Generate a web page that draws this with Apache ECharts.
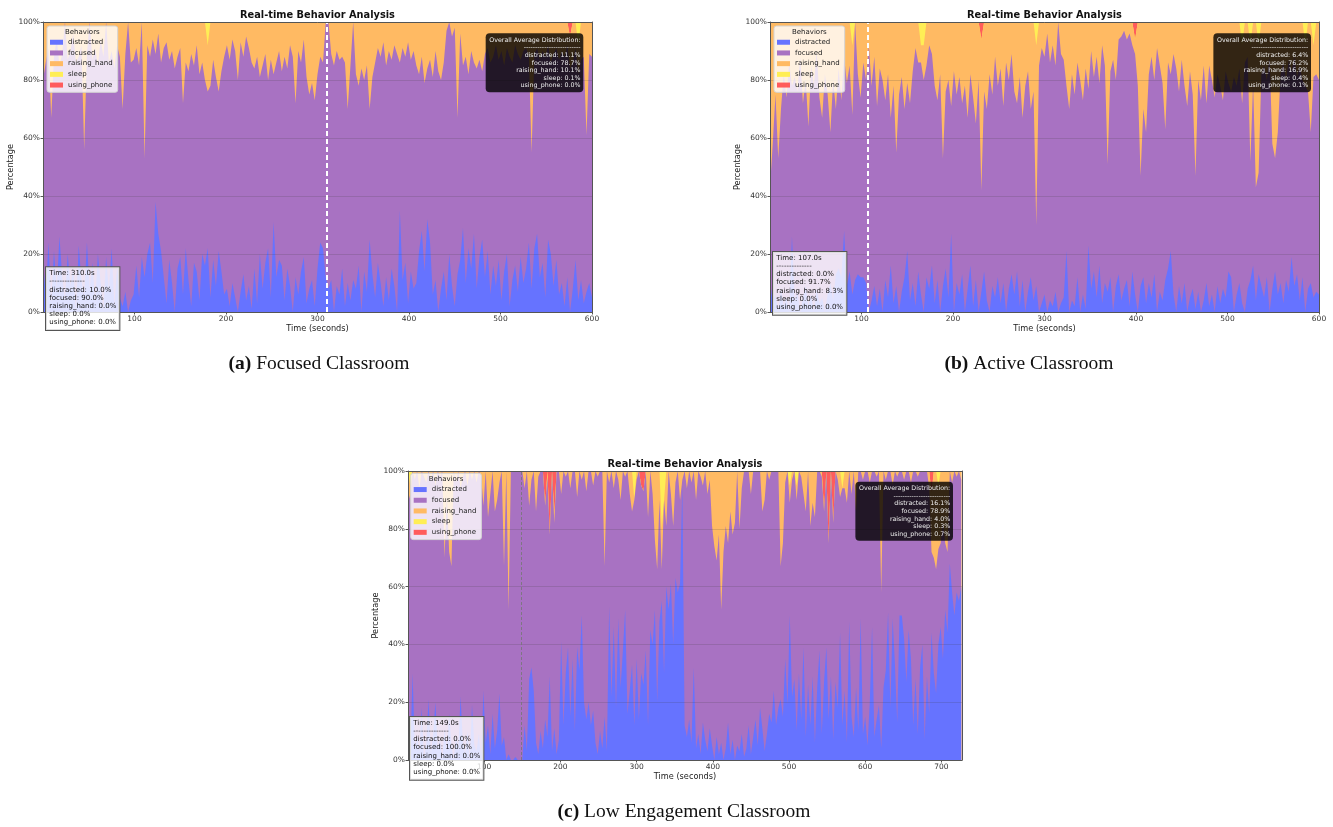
<!DOCTYPE html>
<html>
<head>
<meta charset="utf-8">
<script src="https://cdn.jsdelivr.net/npm/echarts@6/dist/echarts.min.js"></script>
<style>html,body{margin:0;padding:0;background:#fff}#chart{width:1333px;height:827px}</style>
</head>
<body>
<div id="chart"></div>
<script>
// ---------------- data (percent of students, one sample every 3 s) ----------------
const BEHAVIORS = ['distracted', 'focused', 'raising_hand', 'sleep', 'using_phone'];
const STEP = 3;
const Y_TICKS = [0, 20, 40, 60, 80, 100];

// (a) Focused Classroom, t = 0..600
const distractedA = [18,6,24,3,21,8,26,12,
4,20,9,15,0,23,11,5,24,8,17,3,20,10,0,19,7,22,2,16,
5,2,7,0,4,6,
16,5,19,12,20,
24,10,38,27,21,
12,3,18,10,0,15,19,6,22,11,2,17,
14,4,20,16,22,5,18,9,21,14,6,
8,2,10,5,0,7,13,4,9,1,
15,3,20,8,17,22,5,31,12,18,16,
4,15,9,0,12,6,14,19,3,8,11,2,15,
24,22,12,
8,11,0,9,6,15,2,10,4,
11,8,16,0,14,7,25,13,5,17,10,2,
12,4,15,9,0,35,11,17,3,14,8,10,
21,28,14,32,24,
6,11,0,8,14,4,20,9,2,13,
18,29,10,22,15,27,8,19,25,12,21,6,16,
9,18,4,14,20,2,11,16,7,19,10,
15,24,8,22,27,12,17,5,25,20,9,18,
6,10,2,12,0,8,18,4,11,3,7,10,5];
const raisingA = [20,14,9,33,12,6,15,11,0,13,
10,4,14,12,8,44,11,0,13,9,
15,6,12,0,14,10,16,8,12,30,
11,0,14,13,9,15,0,47,8,12,
6,11,4,14,9,7,13,10,16,12,
9,28,14,17,11,15,8,18,14,20,
16,22,13,19,24,17,12,8,13,6,
10,20,7,12,5,9,14,16,12,19,
15,11,20,13,18,14,10,17,12,16,
8,12,28,10,14,6,19,25,21,27,
18,12,14,0,0,11,15,10,13,12,
14,30,15,0,18,22,16,20,15,30,
19,14,9,12,7,15,10,13,8,11,
14,9,12,7,13,10,15,18,12,21,
16,13,19,10,17,20,14,3,0,5,
2,33,4,15,12,18,10,14,16,13,
17,11,9,14,12,8,13,10,15,9,
12,14,8,11,13,10,9,12,45,11,
9,13,10,12,8,14,11,9,13,10,
12,8,11,14,9,10,13,12,39,11,
12];
const sleepA = [[180,8],[585,8]];          // [time, value]
const phoneA = [[576,5]];

// (b) Active Classroom, t = 0..600
const distractedB = [11,3,6,0,8,2,5,0,26,4,
7,0,5,9,2,6,0,8,3,5,
0,6,10,4,13,15,12,28,9,14,
6,11,13,12,12,10,0,4,9,2,
8,0,11,5,16,3,9,0,7,12,
21,4,10,2,14,6,0,12,8,16,
3,11,0,9,15,5,27,0,10,6,
13,0,8,16,2,11,0,7,14,4,
0,9,5,12,3,10,0,8,13,6,
14,2,11,0,7,12,4,9,0,3,
6,0,4,2,7,0,3,5,21,0,
4,2,12,0,6,1,23,8,14,5,
16,3,10,7,12,0,9,13,4,8,
11,2,14,6,0,9,12,3,10,5,
13,0,7,4,11,15,21,6,0,9,
3,10,0,5,8,1,7,0,4,10,
2,6,0,9,3,8,5,14,12,0,
6,10,3,0,8,11,16,4,13,9,
5,12,0,8,14,6,10,3,11,7,
19,9,13,4,12,0,8,10,5,7,
6];
const raisingB = [57,42,25,47,30,18,26,14,22,19,
24,12,28,20,36,15,22,10,26,33,
18,25,38,20,30,16,27,12,21,15,
24,0,18,26,14,20,8,22,12,29,
16,20,27,18,33,22,45,25,19,30,
21,28,17,9,14,6,12,15,8,11,
22,27,18,47,24,20,29,17,25,19,
28,22,33,18,26,35,20,52,24,30,
18,25,12,22,16,29,14,20,11,24,
28,19,33,22,17,30,24,62,15,9,
12,4,14,8,15,0,11,13,22,30,
18,25,14,20,27,16,23,10,19,12,
21,8,15,49,17,13,20,6,5,3,
6,4,8,5,22,53,30,38,18,12,
20,9,15,21,37,14,18,11,16,24,
13,22,29,17,25,53,20,27,15,28,
15,20,26,18,22,27,17,21,24,19,
22,16,20,14,12,40,21,57,44,18,
15,20,12,42,47,38,18,14,20,13,
17,12,19,15,20,14,24,38,11,18,
20];
const sleepB = [[90,8],[165,8],[168,8],[291,8],[516,8],[525,8],[534,8],[585,8],[594,8]];
const phoneB = [[231,6],[399,6]];

// (c) Low Engagement Classroom, t = 0..726
const distractedC = [5,2,30,4,8,3,18,0,6,21,
2,9,20,4,7,0,11,3,16,5,
0,8,4,22,6,2,10,0,19,5,
3,9,0,24,6,12,2,16,4,10,
23,5,8,0,2,0,0,1,0,0,
0,12,3,28,32,24,6,2,10,4,
14,8,29,3,11,2,7,41,12,30,
39,15,35,10,39,31,50,20,14,20,
12,17,6,2,10,4,15,3,53,22,
46,18,49,25,38,52,16,24,33,12,
35,14,30,26,38,12,45,40,52,20,
48,55,30,60,52,61,40,63,58,61,
95,12,8,14,6,32,4,9,2,13,
7,3,11,5,0,8,2,6,0,4,
13,2,7,0,5,3,9,1,4,12,
2,8,14,5,18,11,3,9,16,13,
24,12,18,21,15,35,19,50,22,28,
10,30,14,39,8,26,12,29,6,25,
38,9,27,39,14,29,7,27,18,44,
12,24,6,48,15,8,25,10,49,9,
15,5,20,46,8,14,19,4,25,31,
51,18,49,33,13,50,50,42,27,45,
35,12,28,9,32,40,7,29,16,44,
30,23,40,46,35,52,44,68,58,50,
58,55,60];
const raisingC = [7,5,0,3,0,6,0,2,4,0,
3,0,5,0,2,0,30,8,28,33,
0,4,0,6,2,0,5,0,3,0,
4,0,2,12,0,16,8,0,14,10,
4,0,33,0,48,0,0,0,0,0,
0,6,0,12,3,0,14,2,0,0,
0,2,0,0,3,0,0,8,0,2,
0,6,0,0,9,0,3,0,7,0,
0,5,0,2,0,0,33,0,4,0,
6,0,3,10,0,2,0,8,14,0,
3,0,0,0,0,16,0,8,24,34,
10,14,0,19,0,8,19,4,0,10,
3,0,6,0,4,0,10,0,2,5,
0,8,3,19,26,31,22,48,28,19,
25,14,22,18,0,20,6,0,0,0,
8,0,0,0,0,14,10,0,3,0,
0,0,0,33,25,4,0,6,3,0,
5,0,2,8,14,0,19,11,16,0,
0,2,0,0,0,0,0,0,3,9,
0,6,11,0,8,0,14,0,0,3,
0,0,4,0,0,2,0,42,0,3,
0,0,5,0,2,0,0,3,0,0,
4,0,0,2,0,0,0,0,6,20,
30,34,22,25,18,25,28,0,4,0,
2,0,3];
const sleepC = [[3,5],[297,10],[333,20],[336,10],[501,5],[510,5],[570,6],[696,5]];
const phoneC = [[180,12],[186,22],[192,15],[306,5],[309,7],[546,14],[552,25],[558,18],[687,8]];

// info texts
const nowA = ['Time: 310.0s','distracted: 10.0%','focused: 90.0%','raising_hand: 0.0%','sleep: 0.0%','using_phone: 0.0%'];
const avgA = ['distracted: 11.1%','focused: 78.7%','raising_hand: 10.1%','sleep: 0.1%','using_phone: 0.0%'];
const nowB = ['Time: 107.0s','distracted: 0.0%','focused: 91.7%','raising_hand: 8.3%','sleep: 0.0%','using_phone: 0.0%'];
const avgB = ['distracted: 6.4%','focused: 76.2%','raising_hand: 16.9%','sleep: 0.4%','using_phone: 0.1%'];
const nowC = ['Time: 149.0s','distracted: 0.0%','focused: 100.0%','raising_hand: 0.0%','sleep: 0.0%','using_phone: 0.0%'];
const avgC = ['distracted: 16.1%','focused: 78.9%','raising_hand: 4.0%','sleep: 0.3%','using_phone: 0.7%'];

// ---------------- styling & layout ----------------
const COLORS = {distracted:'#6673FF', focused:'#A872C2', raising_hand:'#FFBA63', sleep:'#FFEE55', using_phone:'#FF5C5C'};
const FONT = 'DejaVu Sans';
const SERIF = 'Liberation Serif';

const panels = [
  {grid:{left:43, top:22, width:549, height:290}, xMax:600, now:310, d:distractedA, r:raisingA, s:sleepA, p:phoneA,
   nowText:nowA, avgText:avgA, marker:{color:'#ffffff', width:2, type:[5,3]},
   legend:{left:47, top:26}, nowBox:[46,267.3], avgBox:[583.3,33.3], caption:['(a)','Focused Classroom'], capPos:[319,354], xNameGap:12},
  {grid:{left:770, top:22, width:549, height:290}, xMax:600, now:107, d:distractedB, r:raisingB, s:sleepB, p:phoneB,
   nowText:nowB, avgText:avgB, marker:{color:'#ffffff', width:2, type:[5,3]},
   legend:{left:774, top:26}, nowBox:[773,252], avgBox:[1311,33.3], caption:['(b)','Active Classroom'], capPos:[1029,354], xNameGap:12},
  {grid:{left:408, top:471, width:554, height:289}, xMax:727, now:149, d:distractedC, r:raisingC, s:sleepC, p:phoneC,
   nowText:nowC, avgText:avgC, marker:{color:'rgba(120,120,120,0.85)', width:1, type:[3,2]},
   legend:{left:410.7, top:473.3}, nowBox:[410,717], avgBox:[953,481.7], caption:['(c)','Low Engagement Classroom'], capPos:[684,802], xNameGap:13}
];

function expand(pts, n) {
  const a = new Array(n).fill(0);
  pts.forEach(([t, v]) => { a[Math.round(t / STEP)] = v; });
  return a;
}

const grids = [], xAxes = [], yAxes = [], series = [], legends = [], graphics = [];

panels.forEach((P, gi) => {
  const n = P.d.length;
  const s = expand(P.s, n), p = expand(P.p, n);
  const times = P.d.map((_, i) => i * STEP);
  // focused is the remainder so the five behaviours add to 100 %
  const f = P.d.map((v, i) => 100 - v - P.r[i] - s[i] - p[i]);
  const vals = [P.d, f, P.r, s, p];
  // cumulative tops of each band (stack order: distracted at the bottom)
  const cum = [];
  let acc = new Array(n).fill(0);
  vals.forEach(arr => { acc = acc.map((a, i) => a + arr[i]); cum.push(acc); });

  grids.push(Object.assign({containLabel:false}, P.grid));
  const ax = {type:'value', gridIndex:gi, min:0, max:P.xMax, interval:100};
  xAxes.push(Object.assign({}, ax, {
    position:'bottom', z:5,
    axisLine:{show:true, onZero:false, lineStyle:{color:'#555', width:1}},
    axisTick:{show:true, length:2.5, lineStyle:{color:'#555'}},
    axisLabel:{fontSize:7.5, color:'#333', margin:3.5, fontFamily:FONT, showMinLabel:false, showMaxLabel:P.xMax % 100 === 0},
    splitLine:{show:false},
    name:'Time (seconds)', nameLocation:'middle', nameGap:P.xNameGap,
    nameTextStyle:{fontSize:8.2, color:'#222', fontFamily:FONT}
  }));
  xAxes.push(Object.assign({}, ax, {
    position:'top', z:5,
    axisLine:{show:true, onZero:false, lineStyle:{color:'#555', width:1}},
    axisTick:{show:false}, axisLabel:{show:false}, splitLine:{show:false}
  }));
  yAxes.push({
    type:'value', gridIndex:gi, min:Y_TICKS[0], max:Y_TICKS[Y_TICKS.length-1], interval:Y_TICKS[1]-Y_TICKS[0], z:5,
    position:'left',
    axisLine:{show:true, onZero:false, lineStyle:{color:'#555', width:1}},
    axisTick:{show:true, length:2.5, lineStyle:{color:'#555'}},
    axisLabel:{formatter:'{value}%', fontSize:7.5, color:'#333', margin:3, fontFamily:FONT},
    splitLine:{show:true, lineStyle:{color:'rgba(60,60,60,0.22)', width:0.8}},
    name:'Percentage', nameLocation:'middle', nameGap:28,
    nameTextStyle:{fontSize:8.2, color:'#222', fontFamily:FONT}
  });
  yAxes.push({
    type:'value', gridIndex:gi, min:0, max:100, position:'right', z:5,
    axisLine:{show:true, onZero:false, lineStyle:{color:'#555', width:1}},
    axisTick:{show:false}, axisLabel:{show:false}, splitLine:{show:false}
  });

  // draw top band first, each area filled down to 0, later (lower) bands painted over it
  for (let k = BEHAVIORS.length - 1; k >= 0; k--) {
    const name = BEHAVIORS[k];
    const ser = {
      type:'line', name, xAxisIndex:gi*2, yAxisIndex:gi*2,
      data: times.map((t, i) => [t, cum[k][i]]),
      symbol:'none', showSymbol:false, silent:true, clip:true, z:2,
      lineStyle:{width:0, opacity:0},
      itemStyle:{color:COLORS[name]},
      areaStyle:{color:COLORS[name], opacity:1, origin:'start'},
      emphasis:{disabled:true}
    };
    if (k === 0) {
      ser.markLine = {
        silent:true, symbol:['none','none'], label:{show:false}, animation:false,
        lineStyle:Object.assign({opacity:1}, P.marker),
        data:[{xAxis:P.now}]
      };
    }
    series.push(ser);
  }

  legends.push({
    orient:'vertical', left:P.legend.left, top:P.legend.top, z:10,
    icon:'rect', itemWidth:13, itemHeight:5, itemGap:2.2, selectedMode:false,
    padding:[12,5,3,3],
    backgroundColor:'rgba(255,255,255,0.8)', borderColor:'#d4d4d4', borderWidth:1, borderRadius:2.5,
    textStyle:{fontSize:7, color:'#222', fontFamily:FONT, lineHeight:8.5},
    data: BEHAVIORS.map(nm => ({name:nm, itemStyle:{color:COLORS[nm], borderWidth:0}}))
  });

  const cx = P.grid.left + P.grid.width / 2;
  graphics.push({
    type:'text', x:cx, y:P.grid.top - 7, z:100, silent:true,
    style:{text:'Real-time Behavior Analysis', fill:'#111', fontSize:9.8, fontWeight:'bold', fontFamily:FONT, align:'center', verticalAlign:'middle'}
  });
  graphics.push({
    type:'text', x:P.legend.left + 35.3, y:P.legend.top + 6.3, z:100, silent:true,
    style:{text:'Behaviors', fill:'#222', fontSize:7, fontFamily:FONT, align:'center', verticalAlign:'middle'}
  });
  const nowLines = [P.nowText[0], '-'.repeat(14)].concat(P.nowText.slice(1));
  graphics.push({
    type:'text', x:P.nowBox[0], y:P.nowBox[1], z:100, silent:true,
    style:{text:nowLines.join('\n'), fill:'#111', fontSize:7, fontFamily:FONT, lineHeight:8.17,
      align:'left', verticalAlign:'top', backgroundColor:'rgba(255,255,255,0.8)',
      borderColor:'#555', borderWidth:1, padding:[2,3,3.5,3.3]}
  });
  const avgLines = ['Overall Average Distribution:', '-'.repeat(25)].concat(P.avgText);
  graphics.push({
    type:'text', x:P.avgBox[0], y:P.avgBox[1], z:100, silent:true,
    style:{text:avgLines.join('\n'), fill:'#eeeeee', fontSize:6.3, fontFamily:FONT, lineHeight:7.6,
      align:'right', verticalAlign:'top', backgroundColor:'rgba(0,0,0,0.8)',
      borderRadius:4, padding:[3,2.8,2.8,3.6]}
  });
  graphics.push({
    type:'text', x:P.capPos[0], y:P.capPos[1], z:100, silent:true,
    style:{text:'{b|' + P.caption[0] + '} ' + P.caption[1], fill:'#111', fontSize:19.5, fontFamily:SERIF,
      align:'center', verticalAlign:'top',
      rich:{b:{fontWeight:'bold', fontSize:19.5, fontFamily:SERIF, fill:'#111'}}}
  });
});

const chart = echarts.init(document.getElementById('chart'), null, {renderer:'canvas'});
chart.setOption({
  animation:false,
  backgroundColor:'#ffffff',
  textStyle:{fontFamily:FONT},
  grid:grids, xAxis:xAxes, yAxis:yAxes, legend:legends, series:series,
  graphic:{elements:graphics}
});
</script>
</body>
</html>
